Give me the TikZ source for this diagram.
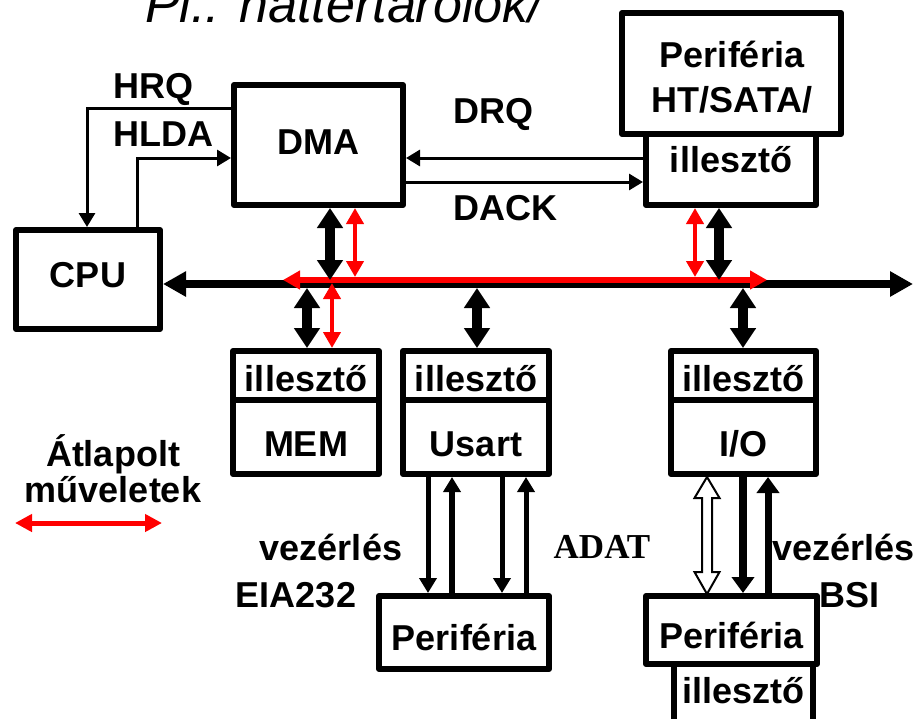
\documentclass[tikz,border=0pt]{standalone}
\usepackage{fontspec}
\setmainfont{Liberation Sans}
\newfontfamily\adatfont{Liberation Serif}
\usetikzlibrary{arrows.meta}
\tikzset{
  box/.style={draw, line width=6pt, inner sep=0pt, line join=round, text depth=0pt,
    font=\bfseries\fontsize{36}{40}\selectfont},
  lbl/.style={inner sep=0pt, font=\bfseries\fontsize{36}{40}\selectfont},
  sig/.style={line width=3pt, -{Triangle[length=14pt,width=16pt]}},
  sigb/.style={line width=5pt, -{Triangle[length=15pt,width=17pt]}},
  sigc/.style={line width=8pt, -{Triangle[length=16pt,width=22pt]}},
  vbl/.style={line width=10pt, {Triangle[length=20pt,width=25pt]}-{Triangle[length=20pt,width=25pt]}},
  vrd/.style={red, line width=4pt, {Triangle[length=16pt,width=17pt]}-{Triangle[length=16pt,width=17pt]}},
  busline/.style={line width=8pt, {Triangle[length=23pt,width=24pt]}-{Triangle[length=23pt,width=24pt]}},
  redbus/.style={red, line width=6pt, {Triangle[length=17pt,width=18pt]}-{Triangle[length=17pt,width=18pt]}},
  legendarrow/.style={red, line width=5pt, {Triangle[length=17pt,width=17pt]}-{Triangle[length=17pt,width=17pt]}},
  hollow/.style={draw, line width=2pt, fill=white, line join=miter}
}
\begin{document}
\begin{tikzpicture}[x=1pt,y=-1pt]
\useasboundingbox (0,0) rectangle (917,718);

% title (cut off at the top)
\node[anchor=base west, inner sep=0pt, font=\itshape\fontsize{52}{60}\selectfont] (title) at (145,22) {Pl.: háttértárolók/};

% boxes
\node[box, minimum width=169pt, minimum height=120pt, text height=18pt] (dma) at (318.5,145) {DMA};
\node[box, minimum width=144pt, minimum height=99pt, text height=15pt] (cpu) at (88,279.5) {CPU};
\node[box, minimum width=219pt, minimum height=121pt] (perht) at (731.5,73.5) {};
\node[box, minimum width=170pt, minimum height=71pt, text height=5pt] (illht) at (731,169.5) {illesztő};
\node[lbl, anchor=base] (pt1) at (732,67) {Periféria};
\node[lbl, anchor=base] (pt2) at (732,112) {HT/SATA/};

\node[box, minimum width=146pt, minimum height=49pt, text height=31pt] (memi) at (306,375.5) {illesztő};
\node[box, minimum width=146pt, minimum height=74pt, text height=38pt] (mem) at (306,437) {MEM};
\node[box, minimum width=146pt, minimum height=49pt, text height=31pt] (usi) at (476,375.5) {illesztő};
\node[box, minimum width=146pt, minimum height=74pt, text height=38pt] (us) at (476,437) {Usart};
\node[box, minimum width=145pt, minimum height=49pt, text height=31pt] (ioi) at (743.5,375.5) {illesztő};
\node[box, minimum width=145pt, minimum height=74pt, text height=38pt] (io) at (743.5,437) {I/O};

\node[box, minimum width=170pt, minimum height=73pt, text height=35pt] (per1) at (464,632.5) {Periféria};
\node[box, minimum width=139pt, minimum height=58pt, text height=20pt] (ill2) at (743.5,693) {illesztő};
\node[box, minimum width=171pt, minimum height=68pt, text height=36pt] (per2) at (731.5,630) {Periféria};

% bus
\coordinate (busend) at (913,284);
\coordinate (bustop) at (0,280);
\coordinate (busbot) at (0,288);
\coordinate (redtop) at (0,277);
\coordinate (redbot) at (0,283);
\coordinate (rl) at (283,280);
\coordinate (rr) at (767,280);
\draw[busline] (cpu.east |- busend) -- (busend);
\draw[redbus] (rl) -- (rr);

% vertical bus connections
\draw[vbl] (330,0 |- dma.south) -- (330,0 |- bustop);
\draw[vrd] (355,0 |- dma.south) -- (355,0 |- redtop);
\draw[vrd] (695,0 |- illht.south) -- (695,0 |- redtop);
\draw[vbl] (719,0 |- illht.south) -- (719,0 |- bustop);
\draw[vbl] (307,0 |- busbot) -- (307,0 |- memi.north);
\draw[vrd] (332,0 |- redbot) -- (332,0 |- memi.north);
\draw[vbl] (477,0 |- busbot) -- (477,0 |- usi.north);
\draw[vbl] (743,0 |- busbot) -- (743,0 |- ioi.north);

% control signals
\draw[sig] (dma.west |- 0,108) -- (87,108) -- (87,0 |- cpu.north);
\draw[sig] (137,0 |- cpu.north) -- (137,158) -- (dma.west |- 0,158);
\draw[sig] (illht.west |- 0,158) -- (dma.east |- 0,158);
\draw[sig] (dma.east |- 0,182) -- (illht.west |- 0,182);

% Usart - Periferia
\draw[sigb] (428,0 |- us.south) -- (428,0 |- per1.north);
\draw[sigb, line width=6pt] (452,0 |- per1.north) -- (452,0 |- us.south);
\draw[sigb] (502,0 |- us.south) -- (502,0 |- per1.north);
\draw[sigb] (526,0 |- per1.north) -- (526,0 |- us.south);

% I/O - Periferia
\draw[hollow] (707,477) -- (719.5,498) -- (712,498) -- (712,572) -- (719.5,572) -- (707,594)
  -- (694.5,572) -- (702,572) -- (702,498) -- (694.5,498) -- cycle;
\draw[sigc] (743,0 |- io.south) -- (743,0 |- per2.north);
\draw[sigc, line width=7pt] (768,0 |- per2.north) -- (768,0 |- io.south);

% labels
\node[lbl, anchor=base west] (hrq) at (113,98) {HRQ};
\node[lbl, anchor=base west] (hlda) at (113,146) {HLDA};
\node[lbl, anchor=base west] (drq) at (453,123) {DRQ};
\node[lbl, anchor=base west] (dack) at (453,220) {DACK};
\node[lbl, anchor=base] (vez1) at (331,560) {vezérlés};
\node[lbl, anchor=base] (eia) at (296,607) {EIA232};
\node[anchor=base, inner sep=0pt, font=\adatfont\bfseries\fontsize{35}{40}\selectfont] (adat) at (602,558) {ADAT};
\node[lbl, anchor=base west] (vez2) at (772,560) {vezérlés};
\node[lbl, anchor=base] (bsi) at (849,607) {BSI};
\node[lbl, anchor=base] (atl) at (113,466) {Átlapolt};
\node[lbl, anchor=base] (muv) at (113,502) {műveletek};

% legend
\coordinate (lg1) at (15,523);
\coordinate (lg2) at (162,523);
\draw[legendarrow] (lg1) -- (lg2);
\end{tikzpicture}
\end{document}
